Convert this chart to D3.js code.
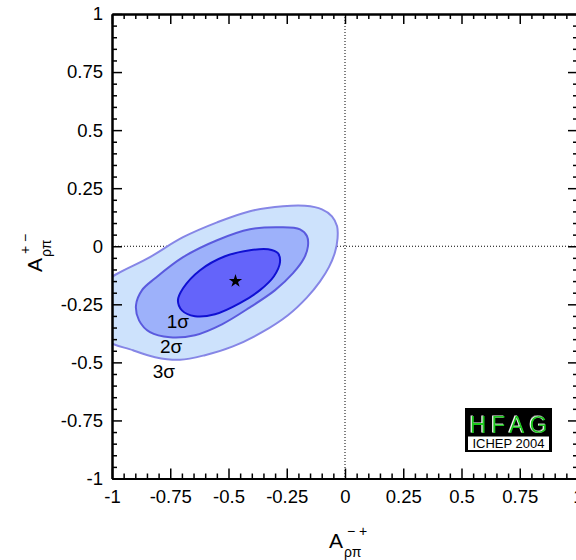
<!DOCTYPE html>
<html>
<head>
<meta charset="utf-8">
<script src="https://cdn.jsdelivr.net/npm/d3@7"></script>
<style>
body { margin: 0; background: #fff; }
text { font-family: "Liberation Sans", Arial, Helvetica, sans-serif; }
</style>
</head>
<body>
<svg id="chart" width="576" height="560"></svg>
<script>
// contour points (A_rho_pi^-+ , A_rho_pi^+-)
var sigma1 = [[-0.717,-0.233],[-0.695,-0.181],[-0.622,-0.103],[-0.515,-0.043],[-0.408,-0.017],[-0.330,-0.013],
  [-0.288,-0.030],[-0.279,-0.069],[-0.305,-0.129],[-0.365,-0.189],[-0.451,-0.245],[-0.558,-0.293],
  [-0.644,-0.301],[-0.700,-0.276]];
var sigma2 = [[-0.897,-0.254],[-0.871,-0.189],[-0.815,-0.138],[-0.695,-0.047],[-0.549,0.026],[-0.408,0.073],
  [-0.279,0.082],[-0.193,0.073],[-0.163,0.043],[-0.159,0.0],[-0.176,-0.052],[-0.223,-0.116],
  [-0.300,-0.189],[-0.408,-0.263],[-0.528,-0.336],[-0.644,-0.383],[-0.751,-0.392],[-0.837,-0.370],
  [-0.884,-0.319]];
var sigma3 = [[-1.04,-0.165],[-0.837,-0.047],[-0.695,0.039],[-0.549,0.103],[-0.408,0.151],[-0.266,0.172],
  [-0.172,0.174],[-0.099,0.159],[-0.056,0.129],[-0.034,0.086],[-0.032,0.034],[-0.043,-0.026],
  [-0.069,-0.090],[-0.107,-0.151],[-0.163,-0.220],[-0.245,-0.297],[-0.356,-0.370],[-0.481,-0.431],
  [-0.601,-0.469],[-0.708,-0.489],[-0.815,-0.478],[-0.910,-0.448],[-1.04,-0.395],[-1.08,-0.28]];
var bestFit = [-0.47, -0.15];
var sigmaLabels = ["1σ", "2σ", "3σ"];
var sigmaLabelPos = [[-0.765,-0.353],[-0.794,-0.461],[-0.825,-0.568]];
var majorTicks = [-1,-0.75,-0.5,-0.25,0,0.25,0.5,0.75,1];
var minorTicks = d3.range(-20, 21).map(i => i/20).filter(v => Math.abs(v*4 - Math.round(v*4)) > 1e-6);

var svg = d3.select("#chart");
var x = d3.scaleLinear().domain([-1, 1]).range([112, 578]);
var y = d3.scaleLinear().domain([-1, 1]).range([478.5, 14]);
var fmt = d => String(+d.toFixed(2));

var defs = svg.append("defs");
defs.append("clipPath").attr("id", "plotclip")
  .append("rect").attr("x", x(-1)).attr("y", y(1)).attr("width", x(1)-x(-1)).attr("height", y(-1)-y(1));
defs.append("filter").attr("id", "glow").attr("x", "-10%").attr("y", "-10%").attr("width", "120%").attr("height", "120%")
  .append("feDropShadow").attr("dx", -1).attr("dy", -0.5).attr("stdDeviation", 0).attr("flood-color", "#fff");

// dotted zero lines (under the contours)
svg.append("line").attr("x1", x(0)).attr("x2", x(0)).attr("y1", y(1)).attr("y2", y(-1))
  .attr("stroke", "#000").attr("stroke-width", 1).attr("stroke-dasharray", "1,2");
svg.append("line").attr("x1", x(-1)).attr("x2", x(1)).attr("y1", y(0)).attr("y2", y(0))
  .attr("stroke", "#000").attr("stroke-width", 1).attr("stroke-dasharray", "1,2");

var contour = d3.line().x(d => x(d[0])).y(d => y(d[1])).curve(d3.curveCatmullRomClosed.alpha(0.5));
var g = svg.append("g").attr("clip-path", "url(#plotclip)");
g.append("path").attr("d", contour(sigma3)).attr("fill", "#cde2fc").attr("stroke", "#8686e6").attr("stroke-width", 2);
g.append("path").attr("d", contour(sigma2)).attr("fill", "#9db1fa").attr("stroke", "#5a5ade").attr("stroke-width", 2);
g.append("path").attr("d", contour(sigma1)).attr("fill", "#6464fa").attr("stroke", "#1010d2").attr("stroke-width", 2);

svg.append("path").attr("d", d3.symbol(d3.symbolStar, 55)())
  .attr("transform", `translate(${x(bestFit[0])},${y(bestFit[1])})`).attr("fill", "#000");

svg.selectAll(".slab").data(sigmaLabels).join("text")
  .attr("x", (d, i) => x(sigmaLabelPos[i][0])).attr("y", (d, i) => y(sigmaLabelPos[i][1]))
  .attr("font-size", 19).text(d => d);

// axes, ticks pointing inward
function drawAxis(axisFn, transform, labels) {
  var major = svg.append("g").attr("transform", transform)
    .call(axisFn.tickValues(majorTicks).tickSizeInner(-10).tickSizeOuter(0).tickPadding(labels ? 9 : 0)
      .tickFormat(labels ? fmt : ""));
  var minor = svg.append("g").attr("transform", transform)
    .call(axisFn.tickValues(minorTicks).tickSizeInner(-5).tickSizeOuter(0).tickFormat(""));
  [major, minor].forEach(a => {
    a.select(".domain").attr("stroke-width", 2);
    a.selectAll(".tick line").attr("stroke-width", 1.5);
  });
  major.selectAll("text").attr("font-size", 18.5).attr("fill", "#000")
    .attr("font-family", "Liberation Sans, Arial, sans-serif");
  return major;
}
drawAxis(d3.axisLeft(y), `translate(${x(-1)},0)`, true);
drawAxis(d3.axisRight(y), `translate(${x(1)},0)`, false);
var xb = drawAxis(d3.axisBottom(x), `translate(0,${y(-1)})`, true);
xb.selectAll("text").attr("y", 11);
drawAxis(d3.axisTop(x), `translate(0,${y(1)})`, false);

// axis titles
var xt = svg.append("g").attr("transform", "translate(329,548)");
xt.append("text").attr("font-size", 21).text("A");
xt.append("text").attr("x", 15).attr("y", 9).attr("font-size", 14).text("ρπ");
xt.append("text").attr("x", 18).attr("y", -12).attr("font-size", 14).text("− +");

var yt = svg.append("g").attr("transform", "translate(42,272) rotate(-90)");
yt.append("text").attr("font-size", 21).text("A");
yt.append("text").attr("x", 15).attr("y", 9).attr("font-size", 14).text("ρπ");
yt.append("text").attr("x", 18).attr("y", -12).attr("font-size", 14).text("+ −");

// HFAG logo
var logo = svg.append("g").attr("transform", "translate(465,408)");
logo.append("rect").attr("width", 87).attr("height", 44).attr("fill", "#000");
logo.append("rect").attr("x", 3).attr("y", 28.5).attr("width", 81).attr("height", 13.5).attr("fill", "#fff");
logo.append("text").attr("x", 46).attr("y", 24.5).attr("text-anchor", "middle").attr("font-size", 23)
  .attr("letter-spacing", 5).attr("fill", "#1ec81e").attr("filter", "url(#glow)").text("HFAG");
logo.append("text").attr("x", 43.5).attr("y", 40).attr("text-anchor", "middle").attr("font-size", 13)
  .attr("fill", "#000").text("ICHEP 2004");
</script>
</body>
</html>
